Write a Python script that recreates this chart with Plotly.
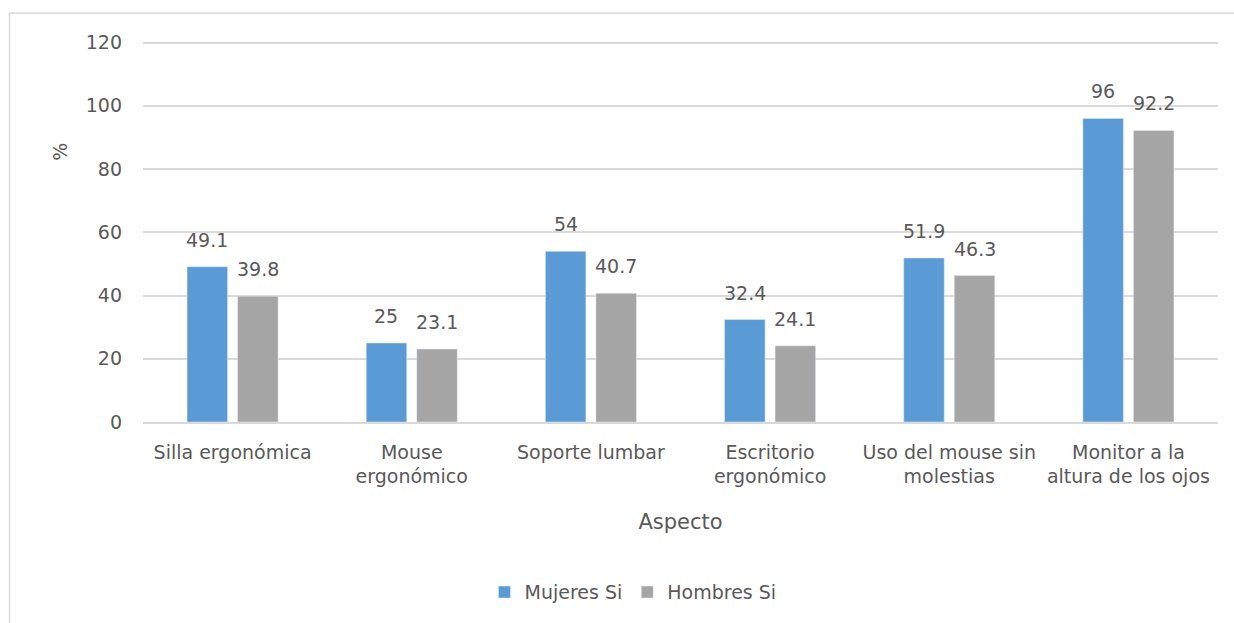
import plotly.graph_objects as go

# Aspectos evaluados y porcentaje de respuestas "Sí" por sexo
categorias = [
    "Silla ergonómica",
    "Mouse<br>ergonómico",
    "Soporte lumbar",
    "Escritorio<br>ergonómico",
    "Uso del mouse sin<br>molestias",
    "Monitor a la<br>altura de los ojos",
]
mujeres_si = [49.1, 25, 54, 32.4, 51.9, 96]
hombres_si = [39.8, 23.1, 40.7, 24.1, 46.3, 92.2]
y_ticks = [0, 20, 40, 60, 80, 100, 120]

AZUL = "#5B9BD5"
GRIS = "#A5A5A5"
TEXTO = "#595959"
LINEA = "#D9D9D9"
FUENTE = "DejaVu Sans"
TAM = 19

# Área de trazado en píxeles (el rango llega un poco por encima de 120
# para que se dibuje la línea de cuadrícula superior)
Y_MAX = 120.5
W, H = 1234, 623
L, R, B = 143, 16, 201
T = 43 - (Y_MAX - 120) * (H - 43 - B) / 120
ancho_px = W - L - R
alto_px = H - T - B


def px_x(p):
    return (p - L) / ancho_px


def px_y(p):
    return (H - B - p) / alto_px


fig = go.Figure()
fig.add_trace(go.Bar(name="Mujeres Si", x=categorias, y=mujeres_si, marker_color=AZUL))
fig.add_trace(go.Bar(name="Hombres Si", x=categorias, y=hombres_si, marker_color=GRIS))

BARGAP = 0.436
# Centro de cada barra respecto al centro de la categoría
desplazamiento = ancho_px / len(categorias) * (1 - BARGAP) / 4

# Etiquetas de valor sobre cada barra
for signo, valores in ((-1, mujeres_si), (1, hombres_si)):
    for cat, v in zip(categorias, valores):
        fig.add_annotation(
            x=cat, y=v, text=f"{v:g}", showarrow=False,
            xshift=signo * desplazamiento, yshift=14, yanchor="bottom",
            font=dict(family=FUENTE, size=TAM, color=TEXTO),
        )

# Título del eje vertical
fig.add_annotation(
    x=px_x(60), y=px_y(152), xref="paper", yref="paper", text="%",
    showarrow=False, textangle=-90, xanchor="center", yanchor="middle",
    font=dict(family=FUENTE, size=TAM, color=TEXTO),
)

# Borde superior e izquierdo del marco del gráfico
borde = dict(color=LINEA, width=1.5)
fig.add_shape(type="line", xref="paper", yref="paper", layer="below",
              x0=px_x(9.5), x1=px_x(W + 5), y0=px_y(13.5), y1=px_y(13.5), line=borde)
fig.add_shape(type="line", xref="paper", yref="paper", layer="below",
              x0=px_x(9.5), x1=px_x(9.5), y0=px_y(13.5), y1=px_y(H + 5), line=borde)

fig.update_layout(
    width=W, height=H,
    margin=dict(l=L, r=R, t=T, b=B, autoexpand=False),
    plot_bgcolor="white", paper_bgcolor="white",
    barmode="group", bargap=BARGAP, bargroupgap=0.198,
    font=dict(family=FUENTE, size=TAM, color=TEXTO),
    showlegend=True,
    legend=dict(orientation="h", x=px_x(633), xanchor="center",
                y=px_y(592), yanchor="middle",
                font=dict(family=FUENTE, size=TAM, color=TEXTO),
                traceorder="normal"),
    xaxis=dict(
        title=dict(text="Aspecto", standoff=28, font=dict(size=21, color=TEXTO)),
        showline=True, linecolor=LINEA, linewidth=1.5, automargin=False,
        tickfont=dict(size=TAM, color=TEXTO), ticks="", ticklabelstandoff=12,
        showgrid=False,
    ),
    yaxis=dict(
        range=[0, Y_MAX], tickvals=y_ticks, showgrid=True, gridcolor=LINEA,
        gridwidth=1.5, zeroline=False, showline=False, automargin=False,
        tickfont=dict(size=TAM, color=TEXTO), ticks="", ticklabelstandoff=20,
    ),
)

fig.write_html("out.html")
